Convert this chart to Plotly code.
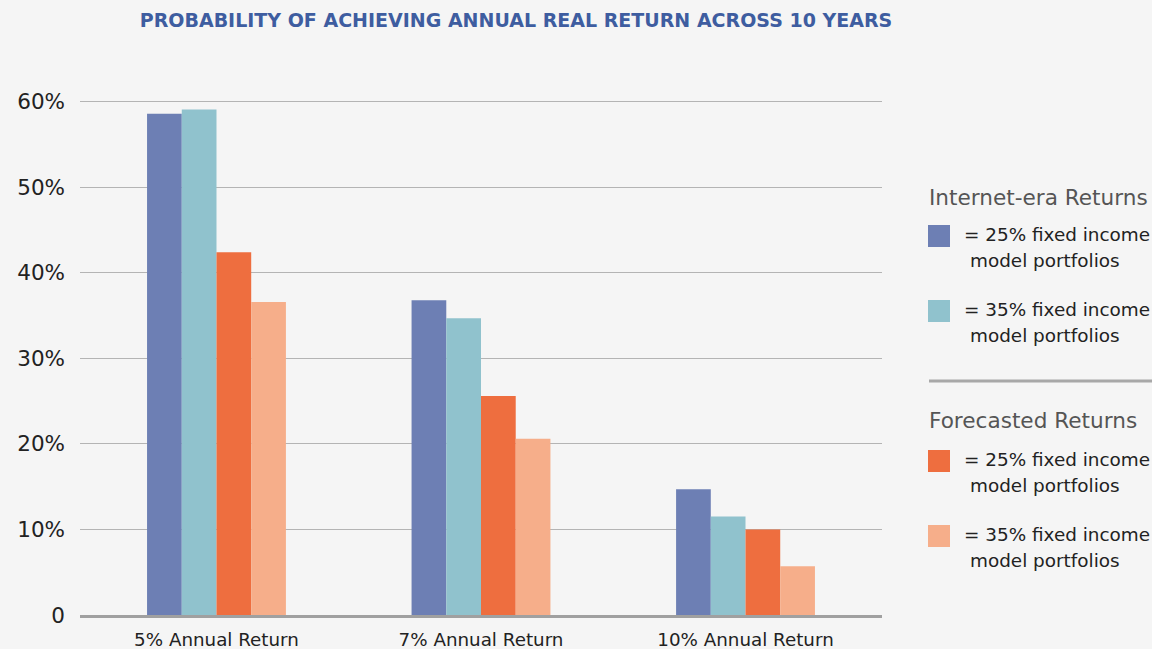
import plotly.graph_objects as go

categories = ["5% Annual Return", "7% Annual Return", "10% Annual Return"]
internet_25 = [58.6, 36.8, 14.7]
internet_35 = [59.1, 34.7, 11.5]
forecast_25 = [42.4, 25.6, 10.0]
forecast_35 = [36.6, 20.6, 5.7]
y_ticks = [0, 10, 20, 30, 40, 50, 60]
y_tick_labels = ["0", "10%", "20%", "30%", "40%", "50%", "60%"]

series = [
    ("Internet-era = 25% fixed income model portfolios", internet_25, "#6d7fb4"),
    ("Internet-era = 35% fixed income model portfolios", internet_35, "#90c2cd"),
    ("Forecasted = 25% fixed income model portfolios", forecast_25, "#ee6e3f"),
    ("Forecasted = 35% fixed income model portfolios", forecast_35, "#f6ae8a"),
]

W, H = 1152, 649
ML, MR, MT, MB = 80, 270, 100, 34
PW, PH = W - ML - MR, H - MT - MB


def px(x):
    return (x - ML) / PW


def py(y):
    return (H - MB - y) / PH


fig = go.Figure()
for name, vals, col in series:
    fig.add_trace(go.Bar(x=categories, y=vals, name=name, marker=dict(color=col, line=dict(width=0)),
                         showlegend=False))

font_main = "'DejaVu Sans', sans-serif"

annotations = []
shapes = []

legend_title_font = dict(family=font_main, size=21.6, color="#555555")
legend_text_font = dict(family=font_main, size=18.4, color="#222222")

groups = [
    ("Internet-era Returns", 197, [(series[0][2], 236), (series[1][2], 311)]),
    ("Forecasted Returns", 420, [(series[2][2], 461), (series[3][2], 536)]),
]
for title, ty, items in groups:
    annotations.append(dict(x=px(927), y=py(ty), xref="paper", yref="paper", text=title,
                            showarrow=False, xanchor="left", yanchor="middle", font=legend_title_font))
    pct = ["25%", "35%"]
    for i, (col, cy) in enumerate(items):
        shapes.append(dict(type="rect", xref="paper", yref="paper",
                           x0=px(928), x1=px(950), y0=py(cy - 11), y1=py(cy + 11),
                           fillcolor=col, line=dict(width=0), layer="above"))
        annotations.append(dict(x=px(962), y=py(cy - 2), xref="paper", yref="paper",
                                text=f"= {pct[i]} fixed income", showarrow=False,
                                xanchor="left", yanchor="middle", font=legend_text_font))
        annotations.append(dict(x=px(968), y=py(cy + 24), xref="paper", yref="paper",
                                text="model portfolios", showarrow=False,
                                xanchor="left", yanchor="middle", font=legend_text_font))

shapes.append(dict(type="line", xref="paper", yref="paper", x0=px(929), x1=px(1152),
                   y0=py(381), y1=py(381), line=dict(color="#a8a8a8", width=3)))

fig.update_layout(
    width=W, height=H,
    margin=dict(l=ML, r=MR, t=MT, b=MB, autoexpand=False),
    paper_bgcolor="#f5f5f5", plot_bgcolor="#f5f5f5",
    barmode="group", bargap=0.475, bargroupgap=0,
    title=dict(text="<b>PROBABILITY OF ACHIEVING ANNUAL REAL RETURN ACROSS 10 YEARS</b>",
               x=516 / W, y=1 - 20 / H, xanchor="center", yanchor="middle",
               xref="container", yref="container",
               font=dict(family="'DejaVu Sans', sans-serif", size=19, color="#3e5da0")),
    xaxis=dict(range=[-0.516, 2.516], showline=True, linewidth=3, linecolor="#a0a0a0",
               showgrid=False, ticks="", tickfont=dict(family=font_main, size=18.3, color="#222222"),
               ticklabelstandoff=6, fixedrange=True, automargin=False),
    yaxis=dict(range=[0, 60.2], tickvals=y_ticks, ticktext=y_tick_labels,
               showgrid=True, gridcolor="#b4b4b4", gridwidth=1.3, zeroline=False,
               tickfont=dict(family=font_main, size=21.5, color="#222222"),
               ticklabelstandoff=14, fixedrange=True, automargin=False),
    annotations=annotations,
    shapes=shapes,
    showlegend=False,
)

fig.write_html("out.html", config={"displayModeBar": False},
               post_script="document.body.style.margin='0';")
